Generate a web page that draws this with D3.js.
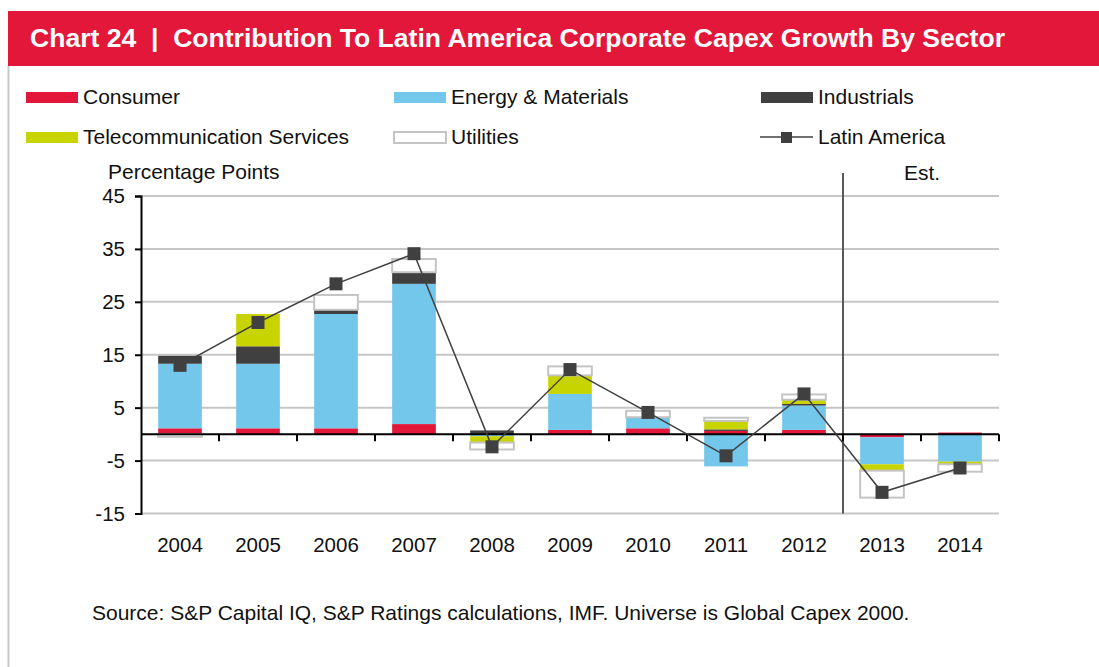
<!DOCTYPE html>
<html>
<head>
<meta charset="utf-8">
<script src="https://cdn.jsdelivr.net/npm/d3@7"></script>
<style>
  body { margin: 0; background: #fff; }
  svg { display: block; font-family: "Liberation Sans", Arial, sans-serif; }
</style>
</head>
<body>
<div id="chart"></div>
<script>
"use strict";

var years = ["2004", "2005", "2006", "2007", "2008", "2009", "2010", "2011", "2012", "2013", "2014"];
var consumer    = [1.1, 1.1, 1.1, 1.9, 0, 0.8, 1.1, 0.6, 0.8, -0.6, 0.3];
var energy      = [12.2, 12.2, 21.6, 26.5, -0.4, 6.8, 2.1, -6.1, 4.6, -5.1, -5.2];
var industrials = [1.5, 3.3, 0.8, 2.2, 0.7, 0, 0, 0.3, 0.3, 0, 0];
var telecom     = [0, 6.1, 0, 0, -1.2, 3.5, 0, 1.6, 0.8, -1.2, -0.5];
var utilities   = [-0.5, 0, 2.8, 2.5, -1.3, 1.7, 1.2, 0.6, 1.0, -5.1, -1.4];
var latinAmerica = [13, 21.1, 28.4, 34.1, -2.4, 12.2, 4.1, -4.1, 7.6, -11.0, -6.4];
var yTicks = [45, 35, 25, 15, 5, -5, -15];
var estYear = "2013";

var width = 1099;
var height = 667;

var sectors = [
  {key: "Consumer", values: consumer, fill: "#e2173a", stroke: "none"},
  {key: "Energy & Materials", values: energy, fill: "#73c7ea", stroke: "none"},
  {key: "Industrials", values: industrials, fill: "#404040", stroke: "none"},
  {key: "Telecommunication Services", values: telecom, fill: "#c8d400", stroke: "none"},
  {key: "Utilities", values: utilities, fill: "#ffffff", stroke: "#c4c4c4"}
];

var rows = years.map(function(y, i) {
  var r = {year: y};
  sectors.forEach(function(s) { r[s.key] = s.values[i]; });
  return r;
});

var svg = d3.select("#chart").append("svg")
  .attr("width", width)
  .attr("height", height);

// title bar
svg.append("rect")
  .attr("x", 8).attr("y", 11)
  .attr("width", width - 8).attr("height", 55)
  .attr("fill", "#e2173a");
svg.append("text")
  .attr("x", 30).attr("y", 47)
  .attr("fill", "#fff")
  .style("font-family", "'Liberation Sans Narrow', 'Liberation Sans', sans-serif")
  .style("font-weight", "bold")
  .style("font-size", "26px")
  .attr("textLength", 975)
  .attr("lengthAdjust", "spacingAndGlyphs")
  .attr("xml:space", "preserve")
  .text("Chart 24  |  Contribution To Latin America Corporate Capex Growth By Sector");

// left frame line
svg.append("line")
  .attr("x1", 8.5).attr("x2", 8.5)
  .attr("y1", 66).attr("y2", height)
  .attr("stroke", "#c8c8c8").attr("stroke-width", 2);

var margin = {top: 196, right: 100, bottom: 154, left: 141};

var x = d3.scaleBand()
  .domain(years)
  .range([margin.left, width - margin.right])
  .paddingInner(0.44)
  .paddingOuter(0.22);

var y = d3.scaleLinear()
  .domain([-15, 45])
  .range([height - margin.bottom + 0.5, margin.top]);

var step = x.step();
var x0 = margin.left, x1 = width - margin.right;

// gridlines
svg.append("g")
  .selectAll("line")
  .data(yTicks)
  .enter().append("line")
  .attr("x1", x0).attr("x2", x1)
  .attr("y1", function(d) { return y(d); })
  .attr("y2", function(d) { return y(d); })
  .attr("stroke", "#c6c6c6").attr("stroke-width", 2);

// stacked bars
var stack = d3.stack()
  .keys(sectors.map(function(s) { return s.key; }))
  .offset(d3.stackOffsetDiverging);
var series = stack(rows);

svg.append("g")
  .selectAll("g")
  .data(series)
  .enter().append("g")
  .attr("fill", function(d, i) { return sectors[i].fill; })
  .attr("stroke", function(d, i) { return sectors[i].stroke; })
  .attr("stroke-width", 2)
  .selectAll("rect")
  .data(function(d) { return d.filter(function(p) { return p[1] - p[0] !== 0; }); })
  .enter().append("rect")
  .attr("x", function(d) { return x(d.data.year); })
  .attr("width", x.bandwidth())
  .attr("y", function(d) { return y(Math.max(d[0], d[1])); })
  .attr("height", function(d) { return Math.abs(y(d[0]) - y(d[1])); });

// Est. divider
var estX = x(estYear) - (step - x.bandwidth()) / 2;
svg.append("line")
  .attr("x1", estX).attr("x2", estX)
  .attr("y1", 173).attr("y2", y(-15))
  .attr("stroke", "#5a5a5a").attr("stroke-width", 2);
svg.append("text")
  .attr("x", estX + step + 1).attr("y", 180)
  .attr("text-anchor", "middle")
  .style("font-size", "21px")
  .attr("fill", "#111")
  .text("Est.");

// zero axis
svg.append("line")
  .attr("x1", x0).attr("x2", x1)
  .attr("y1", y(0)).attr("y2", y(0))
  .attr("stroke", "#000").attr("stroke-width", 2);
svg.append("g")
  .selectAll("line")
  .data(years)
  .enter().append("line")
  .attr("x1", function(d, i) { return x0 + step * (i + 1); })
  .attr("x2", function(d, i) { return x0 + step * (i + 1); })
  .attr("y1", y(0)).attr("y2", y(0) + 7)
  .attr("stroke", "#000").attr("stroke-width", 2);

// y axis
var yAxis = d3.axisLeft(y)
  .tickValues(yTicks)
  .tickSize(6)
  .tickPadding(10)
  .tickFormat(function(d) { return String(d); });
var yg = svg.append("g")
  .attr("transform", "translate(" + x0 + ",0)")
  .call(yAxis);
yg.attr("font-family", null).attr("font-size", null);
yg.select(".domain").attr("stroke", "#000").attr("stroke-width", 2);
yg.selectAll(".tick line").attr("stroke", "#000").attr("stroke-width", 2);
yg.selectAll(".tick text")
  .style("font-size", "20.5px")
  .attr("fill", "#111");

// x labels
svg.append("g")
  .selectAll("text")
  .data(years)
  .enter().append("text")
  .attr("x", function(d) { return x(d) + x.bandwidth() / 2; })
  .attr("y", 552)
  .attr("text-anchor", "middle")
  .style("font-size", "20.5px")
  .attr("fill", "#111")
  .text(function(d) { return d; });

svg.append("text")
  .attr("x", 108).attr("y", 179)
  .style("font-size", "21px")
  .attr("fill", "#111")
  .text("Percentage Points");

// Latin America line
var line = d3.line()
  .x(function(d, i) { return x(years[i]) + x.bandwidth() / 2; })
  .y(function(d) { return y(d); });

svg.append("path")
  .datum(latinAmerica)
  .attr("fill", "none")
  .attr("stroke", "#404040")
  .attr("stroke-width", 1.5)
  .attr("d", line);

svg.append("g")
  .selectAll("rect")
  .data(latinAmerica)
  .enter().append("rect")
  .attr("x", function(d, i) { return x(years[i]) + x.bandwidth() / 2 - 6.5; })
  .attr("y", function(d) { return y(d) - 6.5; })
  .attr("width", 13).attr("height", 13)
  .attr("fill", "#404040");

// legend
var legendItems = sectors.map(function(s) { return {key: s.key, fill: s.fill, stroke: s.stroke, type: "box"}; });
legendItems.push({key: "Latin America", type: "line"});
var legendCols = [25, 393, 760];
var legendRows = [97, 137];

var leg = svg.append("g")
  .selectAll("g")
  .data(legendItems)
  .enter().append("g")
  .attr("transform", function(d, i) {
    return "translate(" + legendCols[i % 3] + "," + legendRows[Math.floor(i / 3)] + ")";
  });

leg.filter(function(d) { return d.type === "box"; })
  .append("rect")
  .attr("x", 1).attr("y", -5)
  .attr("width", 52).attr("height", 11)
  .attr("fill", function(d) { return d.fill; })
  .attr("stroke", function(d) { return d.stroke; })
  .attr("stroke-width", 2);

var lineLeg = leg.filter(function(d) { return d.type === "line"; });
lineLeg.append("line")
  .attr("x1", 0).attr("x2", 53)
  .attr("y1", 0).attr("y2", 0)
  .attr("stroke", "#404040").attr("stroke-width", 1.5);
lineLeg.append("rect")
  .attr("x", 21).attr("y", -5)
  .attr("width", 11).attr("height", 11)
  .attr("fill", "#404040");

leg.append("text")
  .attr("x", 58).attr("y", 7)
  .style("font-size", "21px")
  .attr("fill", "#111")
  .text(function(d) { return d.key; });

// source
svg.append("text")
  .attr("x", 92).attr("y", 620)
  .style("font-size", "21px")
  .attr("fill", "#111")
  .text("Source: S&P Capital IQ, S&P Ratings calculations, IMF. Universe is Global Capex 2000.");
</script>
</body>
</html>
